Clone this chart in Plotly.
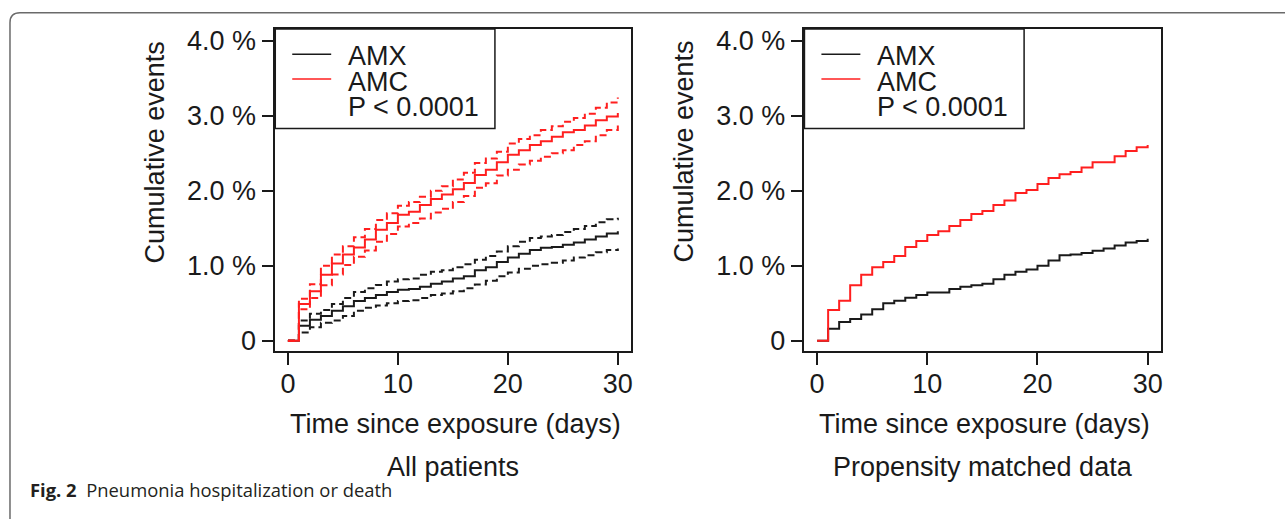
import plotly.graph_objects as go

# ---------------- data (cumulative events, %) ----------------
days = list(range(0, 31))

# All patients
all_amx = [0, 0.20, 0.28, 0.33, 0.40, 0.46, 0.53, 0.57, 0.61, 0.65, 0.68, 0.69, 0.72, 0.76, 0.79, 0.83,
           0.86, 0.94, 0.98, 1.05, 1.11, 1.16, 1.21, 1.24, 1.25, 1.28, 1.31, 1.35, 1.39, 1.43, 1.46]
all_amx_hi = [0, 0.27, 0.36, 0.41, 0.49, 0.57, 0.65, 0.70, 0.745, 0.79, 0.82, 0.83, 0.88, 0.92, 0.94, 0.98,
              1.02, 1.08, 1.13, 1.19, 1.26, 1.32, 1.37, 1.39, 1.41, 1.45, 1.49, 1.53, 1.58, 1.62, 1.64]
all_amx_lo = [0, 0.11, 0.18, 0.24, 0.27, 0.33, 0.40, 0.44, 0.47, 0.50, 0.53, 0.54, 0.57, 0.61, 0.63, 0.66,
              0.70, 0.75, 0.80, 0.86, 0.91, 0.96, 1.00, 1.02, 1.04, 1.07, 1.11, 1.14, 1.18, 1.21, 1.23]
all_amc = [0, 0.49, 0.66, 0.88, 1.03, 1.15, 1.245, 1.35, 1.48, 1.57, 1.68, 1.72, 1.81, 1.89, 1.95, 2.02,
           2.105, 2.21, 2.28, 2.38, 2.48, 2.54, 2.61, 2.66, 2.72, 2.78, 2.81, 2.87, 2.94, 2.99, 3.04]
all_amc_hi = [0, 0.56, 0.755, 1.00, 1.15, 1.26, 1.38, 1.49, 1.61, 1.70, 1.80, 1.85, 1.92, 2.00, 2.06, 2.15,
              2.24, 2.37, 2.43, 2.52, 2.63, 2.69, 2.74, 2.81, 2.86, 2.92, 2.97, 3.03, 3.11, 3.18, 3.245]
all_amc_lo = [0, 0.42, 0.57, 0.74, 0.885, 1.01, 1.12, 1.205, 1.32, 1.425, 1.525, 1.57, 1.63, 1.71, 1.76, 1.85,
              1.93, 2.04, 2.10, 2.205, 2.28, 2.35, 2.40, 2.455, 2.50, 2.54, 2.61, 2.66, 2.74, 2.81, 2.87]

# Propensity matched data
pm_amx = [0, 0.16, 0.25, 0.29, 0.35, 0.42, 0.50, 0.535, 0.575, 0.61, 0.645, 0.645, 0.69, 0.72, 0.74, 0.76,
          0.82, 0.88, 0.92, 0.95, 1.00, 1.07, 1.14, 1.15, 1.17, 1.20, 1.23, 1.27, 1.31, 1.33, 1.36]
pm_amc = [0, 0.41, 0.535, 0.74, 0.88, 0.98, 1.05, 1.13, 1.25, 1.33, 1.41, 1.46, 1.53, 1.61, 1.69, 1.73,
          1.81, 1.87, 1.97, 2.01, 2.09, 2.17, 2.22, 2.25, 2.31, 2.38, 2.38, 2.46, 2.53, 2.58, 2.61]

series_names = ["AMX", "AMC"]
p_text = "P < 0.0001"
y_tickvals = [0, 1, 2, 3, 4]
y_ticktext = ["0", "1.0 %", "2.0 %", "3.0 %", "4.0 %"]
x_tickvals = [0, 10, 20, 30]
panel_titles = ["All patients", "Propensity matched data"]
x_title = "Time since exposure (days)"
y_title = "Cumulative events"
caption_bold = "Fig. 2"
caption_text = "Pneumonia hospitalization or death"

# ---------------- style ----------------
W, H = 1285, 519
BLACK = "#1a1a1a"
RED = "#ff1f1f"
FONT = "Liberation Sans, Arial, sans-serif"
FS = 27
DASH = "7px,4px"


def fx(px):
    return px / W


def fy(py):
    return 1 - py / H


fig = go.Figure()


def add_step(x, y, color, dash, xa, ya):
    fig.add_trace(go.Scatter(x=x, y=y, mode="lines", line=dict(color=color, width=2, dash=dash, shape="hv"),
                             xaxis=xa, yaxis=ya, showlegend=False, hoverinfo="skip"))


# left panel
add_step(days, all_amx_hi, BLACK, DASH, "x", "y")
add_step(days, all_amx_lo, BLACK, DASH, "x", "y")
add_step(days, all_amx, BLACK, "solid", "x", "y")
add_step(days, all_amc_hi, RED, DASH, "x", "y")
add_step(days, all_amc_lo, RED, DASH, "x", "y")
add_step(days, all_amc, RED, "solid", "x", "y")
# right panel
add_step(days, pm_amx, BLACK, "solid", "x2", "y2")
add_step(days, pm_amc, RED, "solid", "x2", "y2")

box_top, box_bot = 27.3, 354
left_box = (275.7, 632)
right_box = (805.7, 1162.7)

common_x = dict(range=[-1.15, 31.2], tickvals=x_tickvals, ticks="outside", ticklen=12, tickwidth=1.5,
                tickcolor=BLACK, showline=True, linecolor=BLACK, linewidth=1.5, mirror=True,
                showgrid=False, zeroline=False, ticklabelstandoff=-4,
                tickfont=dict(family=FONT, size=FS, color=BLACK))
common_y = dict(range=[-0.14, 4.16], tickvals=y_tickvals, ticktext=y_ticktext, ticks="outside", ticklen=12,
                tickwidth=1.5, tickcolor=BLACK, showline=True, linecolor=BLACK, linewidth=1.5, mirror=True,
                showgrid=False, zeroline=False, tickfont=dict(family=FONT, size=FS, color=BLACK),
                domain=[fy(box_bot), fy(box_top)])

fig.update_layout(
    width=W, height=H, margin=dict(l=0, r=0, t=0, b=0),
    paper_bgcolor="white", plot_bgcolor="white", showlegend=False,
    xaxis=dict(domain=[fx(left_box[0]), fx(left_box[1])], anchor="y", **common_x),
    yaxis=dict(anchor="x", **common_y),
    xaxis2=dict(domain=[fx(right_box[0]), fx(right_box[1])], anchor="y2", **common_x),
    yaxis2=dict(anchor="x2", **common_y),
)

anns = []
shapes = []
for i, (bx, title) in enumerate(zip([left_box, right_box], panel_titles)):
    x0 = bx[0]
    cx = (bx[0] + bx[1]) / 2
    # y axis title
    anns.append(dict(text=y_title, x=fx(x0 - 121), y=fy(152), xref="paper", yref="paper", textangle=-90,
                     showarrow=False, xanchor="center", yanchor="middle",
                     font=dict(family=FONT, size=FS, color=BLACK)))
    # x axis title
    anns.append(dict(text=x_title, x=fx(cx + 2), y=fy(428), xref="paper", yref="paper", showarrow=False,
                     xanchor="center", yanchor="middle", font=dict(family=FONT, size=FS, color=BLACK)))
    # panel title
    anns.append(dict(text=title, x=fx(cx), y=fy(471), xref="paper", yref="paper", showarrow=False,
                     xanchor="center", yanchor="middle", font=dict(family=FONT, size=FS, color=BLACK)))
    # legend box
    shapes.append(dict(type="rect", xref="paper", yref="paper", x0=fx(x0), x1=fx(x0 + 220),
                       y0=fy(box_top), y1=fy(128.3), line=dict(color=BLACK, width=1.5),
                       fillcolor="white", layer="above"))
    for name, col, ly in zip(series_names, [BLACK, RED], [53, 78]):
        shapes.append(dict(type="line", xref="paper", yref="paper", x0=fx(x0 + 17), x1=fx(x0 + 56),
                           y0=fy(ly), y1=fy(ly), line=dict(color=col, width=1.5), layer="above"))
    for txt, ty in zip(series_names + [p_text], [55, 81, 106]):
        anns.append(dict(text=txt, x=fx(x0 + 71), y=fy(ty), xref="paper", yref="paper", showarrow=False,
                         xanchor="left", yanchor="middle", font=dict(family=FONT, size=FS, color=BLACK)))

# caption
anns.append(dict(text="<b>" + caption_bold + "</b>  " + caption_text, x=fx(28), y=fy(494), xref="paper",
                 yref="paper", showarrow=False, xanchor="left", yanchor="middle",
                 font=dict(family="Open Sans, Noto Sans, sans-serif", size=18.4, color="#231f20")))

# outer figure frame (rounded top-left corner)
r = 10
path = (f"M {fx(10)},{fy(530)} L {fx(10)},{fy(11 + r)} Q {fx(10)},{fy(11)} {fx(10 + r)},{fy(11)} "
        f"L {fx(1300)},{fy(11)}")
shapes.append(dict(type="path", path=path, xref="paper", yref="paper",
                   line=dict(color="#6a6a6a", width=1.5), layer="above"))

fig.update_layout(annotations=anns, shapes=shapes)
fig.write_html("out.html", config={"displayModeBar": False},
               post_script="document.body.style.margin='0px';document.body.style.overflow='hidden';")
